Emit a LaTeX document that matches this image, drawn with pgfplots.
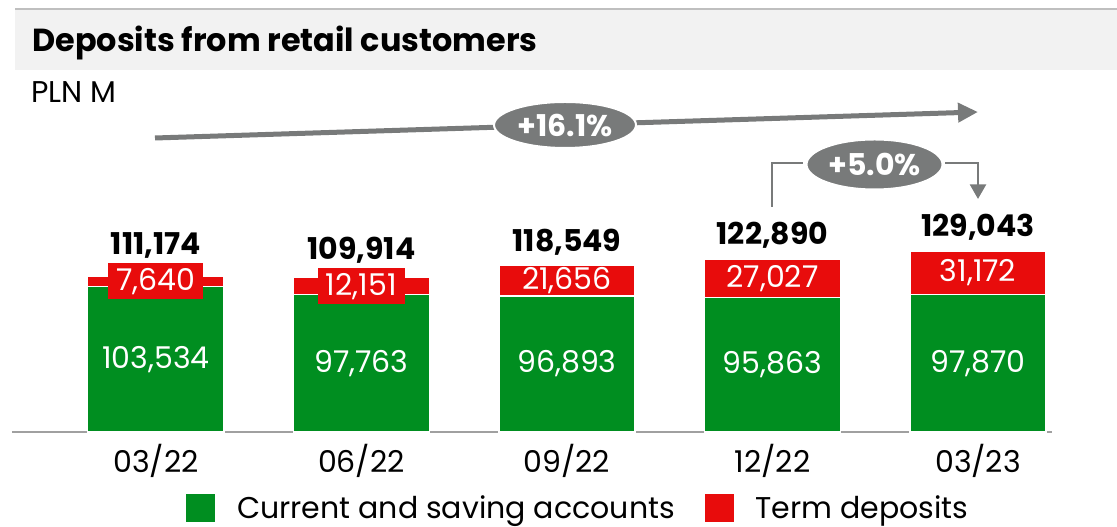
\documentclass[border=0pt]{standalone}
\usepackage{fontspec}
\setmainfont{Poppins}
\usepackage{pgfplots}
\pgfplotsset{compat=1.18}
\usetikzlibrary{arrows.meta}
\definecolor{cgreen}{RGB}{0,142,32}
\definecolor{cred}{RGB}{232,12,12}
\definecolor{cgray}{RGB}{120,122,122}
\definecolor{titlebg}{RGB}{242,242,242}
\definecolor{lgray}{RGB}{191,191,191}
\definecolor{agray}{RGB}{160,160,160}
\newcommand\fs{\fontsize{22.5}{27}\selectfont}
\begin{document}
\begin{tikzpicture}[x=0.75pt,y=0.75pt,
  glab/.style={text=white, font=\fs},
  rlab/.style={fill=cred, text=white, font=\fs, inner xsep=6pt, inner ysep=0pt, minimum height=27pt},
  rlabn/.style={text=white, font=\fs},
  tlab/.style={anchor=base, font=\fs\bfseries}]
\useasboundingbox (0,0) rectangle (1117,527);
\fill[titlebg] (15,{527-10}) rectangle (1117,{527-70});
\draw[lgray, line width=1.2pt] (15,{527-9}) -- (1117,{527-9});
\node[anchor=base west, inner sep=0pt, font=\fontsize{23.9}{28}\selectfont\bfseries] at (32,{527-52}) {Deposits from retail customers};
\node[anchor=base west, inner sep=0pt, font=\fs] at (31,{527-103}) {PLN M};
\begin{axis}[
  at={(9pt,71.25pt)}, anchor=south west,
  scale only axis, width=780pt, height=267.75pt,
  xmin=-0.70, xmax=4.36, ymin=0, ymax=254.42,
  ybar stacked, bar width=0.662,
  axis x line=bottom, axis y line=none,
  x axis line style={agray, line width=1.5pt, -},
  xtick={0,1,2,3,4},
  xticklabels={03/22,06/22,09/22,12/22,03/23},
  major tick length=0pt, tick style={draw=none},
  xticklabel style={font=\fs, text=black, yshift=-6pt},
  clip=false,
  legend columns=2,
  legend style={at={(0.1663,-0.213)}, anchor=west, draw=none, fill=none, inner sep=0pt, font=\fs,
    /tikz/every odd column/.append style={column sep=13.5pt},
    /tikz/every even column/.append style={column sep=19.5pt}},
  legend image code/.code={\fill[#1] (0pt,-11.25pt) rectangle (22.5pt,11.25pt);},
]
\addplot[fill=cgreen, draw=white, line width=0.9pt] coordinates {(0,103.534) (1,97.763) (2,96.893) (3,95.863) (4,97.870)};
\addlegendentry{Current and saving accounts}
\addplot[fill=cred, draw=white, line width=0.9pt] coordinates {(0,7.640) (1,12.151) (2,21.656) (3,27.027) (4,31.172)};
\addlegendentry{Term deposits}
% label anchors: middle of each segment and top of each bar
\coordinate (g0) at (axis cs:0,51.767);
\coordinate (g1) at (axis cs:1,48.8815);
\coordinate (g2) at (axis cs:2,48.4465);
\coordinate (g3) at (axis cs:3,47.9315);
\coordinate (g4) at (axis cs:4,48.935);
\coordinate (r0) at (axis cs:0,107.354);
\coordinate (r1) at (axis cs:1,103.8385);
\coordinate (r2) at (axis cs:2,107.721);
\coordinate (r3) at (axis cs:3,109.3765);
\coordinate (r4) at (axis cs:4,113.456);
\coordinate (t0) at (axis cs:0,111.174);
\coordinate (t1) at (axis cs:1,109.914);
\coordinate (t2) at (axis cs:2,118.549);
\coordinate (t3) at (axis cs:3,122.890);
\coordinate (t4) at (axis cs:4,129.042);
\end{axis}
\node[glab] at (g0) {103,534};
\node[glab] at (g1) {97,763};
\node[glab] at (g2) {96,893};
\node[glab] at (g3) {95,863};
\node[glab] at (g4) {97,870};
\node[rlab] at (r0) {7,640};
\node[rlab] at (r1) {12,151};
\node[rlabn] at (r2) {21,656};
\node[rlabn] at (r3) {27,027};
\node[rlabn] at (r4) {31,172};
\node[tlab, yshift=15.75pt] at (t0) {111,174};
\node[tlab, yshift=13.5pt] at (t1) {109,914};
\node[tlab, yshift=10.5pt] at (t2) {118,549};
\node[tlab, yshift=11pt] at (t3) {122,890};
\node[tlab, yshift=10.5pt] at (t4) {129,043};
% growth arrows
\draw[cgray, line width=3.75pt, -{Triangle[length=15pt,width=14pt]}] (155,{527-138}) -- (978,{527-112});
\filldraw[fill=cgray, draw=white, line width=1.5pt] (565,{527-125}) ellipse [x radius=71, y radius=23];
\node[text=white, font=\fs\bfseries] at (565,{527-125}) {+16.1\%};
\draw[cgray, line width=1.9pt] (772,{527-207}) -- (772,{527-163}) -- (803,{527-163});
\draw[cgray, line width=1.9pt, -{Triangle[length=11pt,width=12pt]}] (945,{527-163}) -- (978,{527-163}) -- (978,{527-199});
\filldraw[fill=cgray, draw=white, line width=1.5pt] (874.5,{527-164.5}) ellipse [x radius=68, y radius=25];
\node[text=white, font=\fs\bfseries] at (874.5,{527-164.5}) {+5.0\%};
\end{tikzpicture}
\end{document}
